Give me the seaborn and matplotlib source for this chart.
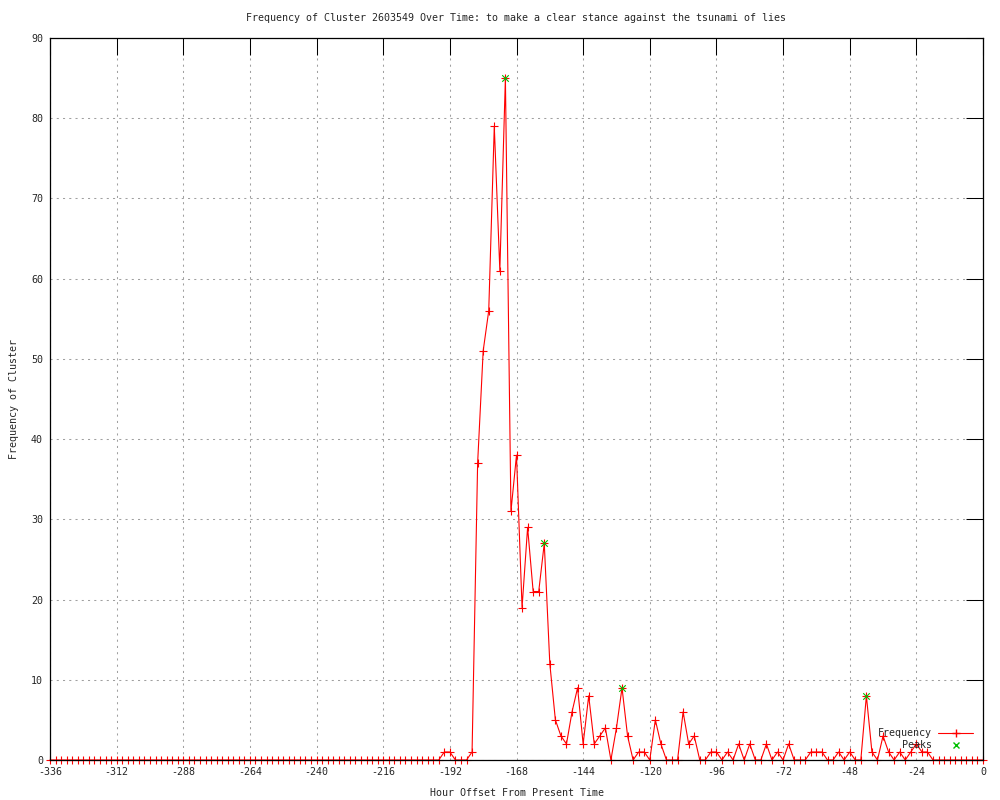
"""
Frequency of a single cluster over time, gnuplot-like look.
"""

import matplotlib
matplotlib.use("Agg")
import matplotlib.pyplot as plt
import pandas as pd
import seaborn as sns
from matplotlib.lines import Line2D

# Data (2-hour bins)
hours = list(range(-336, 1, 2))
frequency = [
    # -336 .. -200
    0, 0, 0, 0, 0, 0, 0, 0, 0, 0, 0, 0, 0, 0, 0, 0, 0, 0, 0, 0,
    0, 0, 0, 0, 0, 0, 0, 0, 0, 0, 0, 0, 0, 0, 0, 0, 0, 0, 0, 0,
    0, 0, 0, 0, 0, 0, 0, 0, 0, 0, 0, 0, 0, 0, 0, 0, 0, 0, 0, 0,
    0, 0, 0, 0, 0, 0, 0, 0, 0,
    # -198 .. -160
    0, 0, 1, 1, 0, 0, 0, 1, 37, 51, 56, 79, 61, 85, 31, 38, 19, 29, 21, 21,
    # -158 .. -120
    27, 12, 5, 3, 2, 6, 9, 2, 8, 2, 3, 4, 0, 4, 9, 3, 0, 1, 1, 0,
    # -118 .. -80
    5, 2, 0, 0, 0, 6, 2, 3, 0, 0, 1, 1, 0, 1, 0, 2, 0, 2, 0, 0,
    # -78 .. -40
    2, 0, 1, 0, 2, 0, 0, 0, 1, 1, 1, 0, 0, 1, 0, 1, 0, 0, 8, 1,
    # -38 .. 0
    0, 3, 1, 0, 1, 0, 1, 2, 1, 1, 0, 0, 0, 0, 0, 0, 0, 0, 0, 0,
]
peak_hours = [-172, -158, -130, -42]
peak_values = [85, 27, 9, 8]

x_ticks = list(range(-336, 1, 24))
y_ticks = list(range(0, 91, 10))

TITLE = "Frequency of Cluster 2603549 Over Time: to make a clear stance against the tsunami of lies"
LINE_COLOR = "#ff0000"
PEAK_COLOR = "#00c000"
FONT_SIZE = 7.2

sns.set_style("white")
plt.rcParams["font.family"] = ["DejaVu Sans Mono", "DejaVu Sans"]
plt.rcParams["axes.unicode_minus"] = False
plt.rcParams["font.size"] = FONT_SIZE

df = pd.DataFrame({"hour": hours, "frequency": frequency})
peaks = pd.DataFrame({"hour": peak_hours, "frequency": peak_values})

fig, ax = plt.subplots(figsize=(10, 8), dpi=100)
fig.subplots_adjust(left=0.05, right=0.983, bottom=0.05, top=0.9525)

sns.lineplot(
    data=df, x="hour", y="frequency", ax=ax, color=LINE_COLOR,
    marker="+", markersize=5.5, markeredgecolor=LINE_COLOR, markeredgewidth=0.8,
    linewidth=0.8, clip_on=False, zorder=2,
)
sns.scatterplot(
    data=peaks, x="hour", y="frequency", ax=ax, color=PEAK_COLOR,
    marker="x", s=22, linewidth=0.8, clip_on=False, zorder=3,
)

ax.set_xlim(-336, 0)
ax.set_ylim(0, 90)
ax.set_xticks(x_ticks)
ax.set_yticks(y_ticks)
ax.set_axisbelow(True)
ax.grid(True, color="#a0a0a0", linestyle=(0, (2, 4)), linewidth=0.75)
ax.tick_params(direction="in", length=12, width=0.75, color="black",
               top=True, right=True, labelsize=FONT_SIZE, pad=5)
for spine in ax.spines.values():
    spine.set_color("black")
    spine.set_linewidth(0.9)
    spine.set_zorder(4)

ax.set_title(TITLE, fontsize=FONT_SIZE, pad=12)
ax.set_xlabel("Hour Offset From Present Time", fontsize=FONT_SIZE, labelpad=8)
ax.set_ylabel("Frequency of Cluster", fontsize=FONT_SIZE, labelpad=9)

handles = [
    Line2D([], [], color=LINE_COLOR, marker="+", markersize=5.5, linewidth=0.8),
    Line2D([], [], color=PEAK_COLOR, marker="x", markersize=4.5, linestyle="none"),
]
ax.legend(handles, ["Frequency", "Peaks"], loc="lower right", markerfirst=False,
          frameon=False, fontsize=FONT_SIZE, handlelength=3.5, handletextpad=0.6,
          labelspacing=0.2, borderaxespad=0.6)

plt.savefig("out.png", dpi=100)
plt.close()
